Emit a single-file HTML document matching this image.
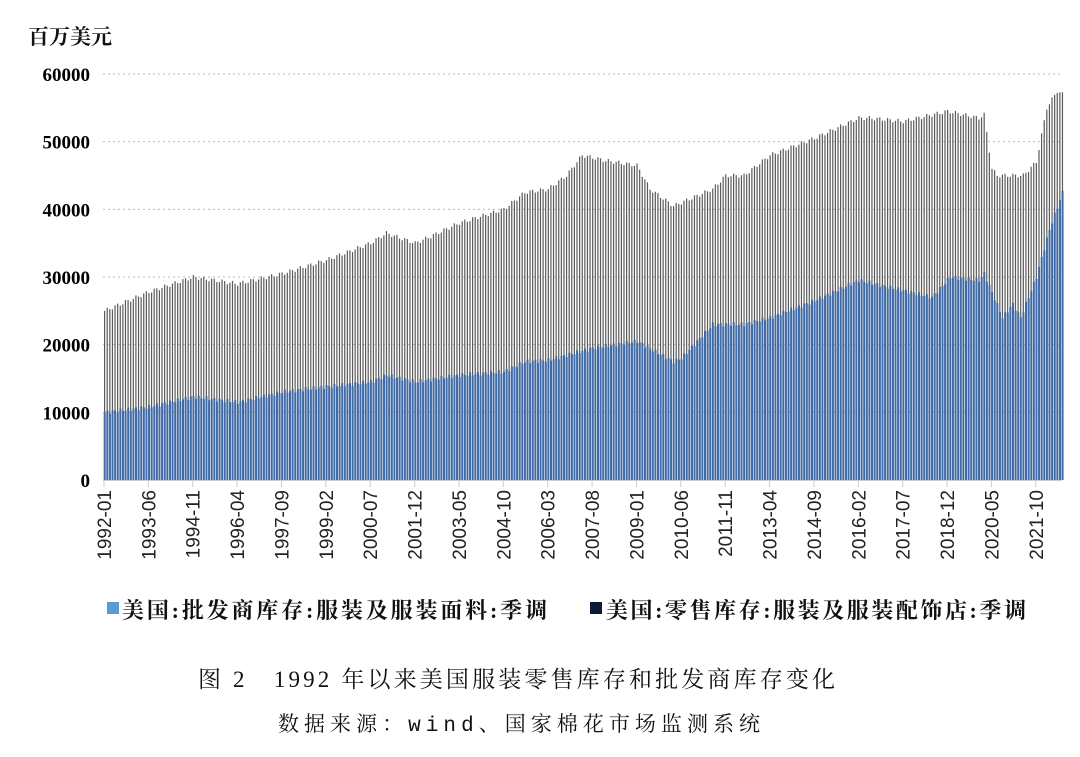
<!DOCTYPE html>
<html><head><meta charset="utf-8"><style>
body{margin:0;background:#fff;width:1080px;height:752px;overflow:hidden;font-family:"Liberation Serif","Noto Serif CJK SC",serif;}
</style></head><body>
<svg id="s" width="1080" height="752" xmlns="http://www.w3.org/2000/svg"></svg>
<script>
const s=document.getElementById('s');
let h='';
const X0=104,DX=2.61,Y0=480,K=406/60000;
h+='<text x="28" y="44" font-size="21" font-family="Noto Serif CJK SC,serif" font-weight="bold" fill="#111">百万美元</text>';
for(let v=0;v<=60000;v+=10000){const y=Y0-v*K;
 if(v>0)h+=`<line x1="103" x2="1062" y1="${y}" y2="${y}" stroke="#bbb" stroke-dasharray="2,3"/>`;
 h+=`<text x="90" y="${y+7}" font-size="19" font-weight="bold" text-anchor="end" font-family="Liberation Serif,serif">${v}</text>`;}
function m(s){const [a,b]=s.split('-').map(Number);return (a-1992)*12+b-1;}
function interp(pts,i){for(let k=0;k<pts.length-1;k++){const a=m(pts[k][0]),b=m(pts[k+1][0]);if(i>=a&&i<=b){return pts[k][1]+(pts[k+1][1]-pts[k][1])*(i-a)/(b-a||1);}}return pts[pts.length-1][1];}
const R=[['1992-01',25000],['1993-06',27800],['1994-11',30000],['1996-04',29000],['1997-09',30500],['1999-02',32500],['2000-07',35000],['2001-01',36500],['2001-12',35000],['2002-06',36000],['2003-05',38000],['2004-10',40000],['2005-06',42500],['2006-03',43000],['2006-10',45000],['2007-04',48000],['2008-01',47200],['2009-01',46500],['2009-06',43000],['2010-03',40500],['2010-06',41000],['2011-06',43000],['2011-11',45000],['2012-06',45000],['2013-04',48000],['2014-09',50500],['2016-02',53500],['2016-06',53500],['2017-07',53000],['2018-12',54500],['2019-12',53500],['2020-02',54000],['2020-05',46000],['2020-07',45000],['2021-05',45000],['2021-10',47000],['2022-02',55000],['2022-06',57500],['2022-08',57000]];
const W=[['1992-01',10000],['1993-06',10800],['1994-11',12300],['1996-04',11500],['1997-09',13000],['1999-02',13800],['2000-07',14500],['2001-01',15500],['2001-12',14500],['2003-05',15500],['2004-10',16000],['2005-06',17500],['2006-03',17700],['2007-08',19500],['2009-01',20500],['2010-03',17500],['2010-06',18000],['2011-06',23000],['2012-06',23000],['2013-04',24000],['2014-09',26500],['2016-02',29500],['2017-07',28000],['2018-06',27000],['2019-01',30000],['2019-12',29500],['2020-02',30500],['2020-09',24000],['2021-01',26000],['2021-04',24000],['2021-10',30000],['2022-03',37000],['2022-08',42500]];
const N=m('2022-08');
for(let i=0;i<=N;i++){const x=X0+i*DX;const r=interp(R,i)+Math.sin(i*1.7)*300,w=interp(W,i)+Math.sin(i*2.3)*300;
 h+=`<rect x="${x}" y="${Y0-r*K}" width="1.2" height="${r*K}" fill="#5a5a5a"/>`;
 h+=`<rect x="${x-0.3}" y="${Y0-w*K}" width="2" height="${w*K}" fill="#3f6aa5"/>`;}
h+=`<line x1="103" x2="1062" y1="480.5" y2="480.5" stroke="#ccc"/>`;
for(let i=0;i<=N;i+=17){const x=X0+i*DX;const y=1992+Math.floor(i/12),mo=String(i%12+1).padStart(2,'0');
 h+=`<line x1="${x}" x2="${x}" y1="481" y2="487" stroke="#ccc"/>`;
 h+=`<text transform="translate(${x+7},490) rotate(-90)" font-size="19" text-anchor="end" font-family="Liberation Sans,sans-serif" fill="#222">${y}-${mo}</text>`;}
h+=`<rect x="107" y="602" width="12" height="12" fill="#5b9bd5"/><text x="122" y="618" font-size="22" font-weight="bold" font-family="Liberation Serif,Noto Serif CJK SC,serif" fill="#111" textLength="425">美国:批发商库存:服装及服装面料:季调</text>`;
h+=`<rect x="590" y="602" width="12" height="12" fill="#0d1a3a"/><text x="606" y="618" font-size="22" font-weight="bold" font-family="Liberation Serif,Noto Serif CJK SC,serif" fill="#111" textLength="420">美国:零售库存:服装及服装配饰店:季调</text>`;
h+=`<text x="198" y="687" font-size="23" font-family="Liberation Serif,Noto Serif CJK SC,serif" fill="#111" textLength="637">图 2　1992 年以来美国服装零售库存和批发商库存变化</text>`;
h+=`<text x="278" y="731" font-size="21" font-family="Liberation Mono,Noto Serif CJK SC,monospace" fill="#111" textLength="482">数据来源：wind、国家棉花市场监测系统</text>`;
s.innerHTML=h;
</script>
</body></html>
